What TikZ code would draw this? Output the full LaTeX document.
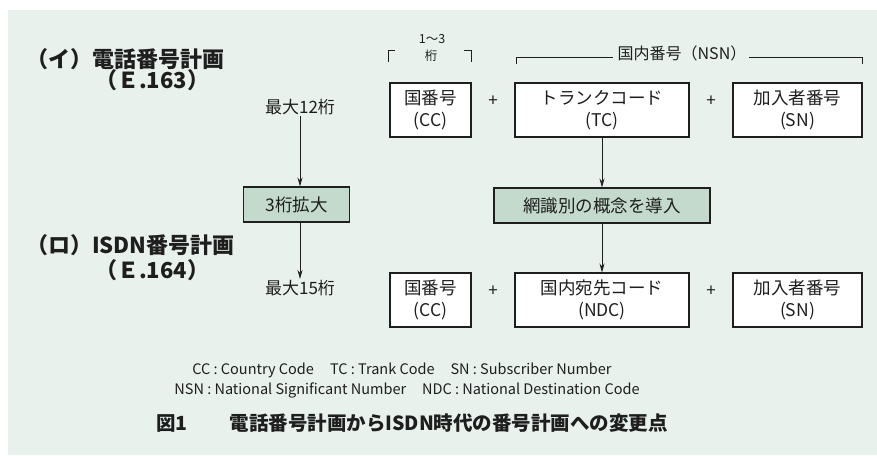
\documentclass[tikz,border=0pt]{standalone}
\usepackage{fontspec}
\setmainfont{Noto Sans CJK JP}
\usetikzlibrary{arrows.meta}
\definecolor{bg}{HTML}{E8F1EC}
\definecolor{boxg}{HTML}{C3DACD}
\definecolor{ink}{HTML}{1E1E1E}
\tikzset{
  numbox/.style={draw=ink, line width=1.1pt, fill=white, minimum height=54pt, align=center,
    font=\fontsize{17.5}{21.5}\selectfont, inner sep=0pt},
  stepbox/.style={draw=ink, line width=1.1pt, fill=boxg, minimum height=35pt,
    font=\fontsize{17.5}{20}\selectfont, inner sep=0pt},
  plus/.style={font=\fontsize{17}{20}\selectfont},
  small/.style={font=\fontsize{17}{20}\selectfont},
  title/.style={font=\fontsize{22}{26}\selectfont\bfseries, anchor=west},
  legend/.style={font=\fontsize{14.5}{17}\selectfont},
  arr/.style={draw=ink, line width=0.8pt, -{Stealth[length=9pt,width=5pt]}},
  brk/.style={draw=ink, line width=0.8pt}
}
\begin{document}
\begin{tikzpicture}[x=1pt,y=-1pt, every node/.style={text=ink, inner sep=1pt}]
\fill[white] (0,0) rectangle (877,455);
\fill[bg] (8,10) rectangle (877,455);
\useasboundingbox (0,0) rectangle (877,455);

% titles
\node[title] (t1) at (25,59) {（イ）電話番号計画};
\node[title] (t1b) at (94,80) {（Ｅ.163）};
\node[title] (t2) at (25,245) {（ロ）ISDN番号計画};
\node[title] (t2b) at (94,270) {（Ｅ.164）};

% left column
\node[small] (max12) at (300,107) {最大12桁};
\node[stepbox, minimum width=106pt] (exp) at (296.5,204.5) {3桁拡大};
\node[small] (max15) at (300,288) {最大15桁};
\draw[arr] (max12.south) -- (max12.south |- exp.north);
\draw[arr] (max12.south |- exp.south) -- (max15.north);

% top row
\node[numbox, minimum width=81pt] (cc1) at (430.5,110) {国番号\\(CC)};
\node[numbox, minimum width=174pt] (tc) at (602,110) {トランクコード\\(TC)};
\node[numbox, minimum width=129pt] (sn1) at (797.5,110) {加入者番号\\(SN)};
\node[plus] (p1) at (493,101) {+};
\node[plus] (p2) at (711,101) {+};

% brackets
\draw[brk] (388,62) -- (388,50) -- (395,50);
\draw[brk] (464,50) -- (471,50) -- (471,62);
\node[font=\fontsize{12.5}{14}\selectfont] (r13) at (432,39) {1〜3};
\node[font=\fontsize{12.5}{14}\selectfont] (rk) at (431,56) {桁};
\draw[brk] (516,64) -- (516,57) -- (613,57);
\draw[brk] (749,57) -- (862,57) -- (862,64);
\node[font=\fontsize{16}{18}\selectfont] (nsn) at (682,53) {国内番号（NSN）};

% middle
\node[stepbox, minimum width=216pt] (ndi) at (602,205.5) {網識別の概念を導入};
\draw[arr] (tc.south) -- (ndi.north);

% bottom row
\node[numbox, minimum width=81pt] (cc2) at (430.5,300) {国番号\\(CC)};
\node[numbox, minimum width=174pt] (ndc) at (602,300) {国内宛先コード\\(NDC)};
\node[numbox, minimum width=129pt] (sn2) at (797.5,300) {加入者番号\\(SN)};
\node[plus] (p3) at (493,291) {+};
\node[plus] (p4) at (711,291) {+};
\draw[arr] (ndi.south) -- (ndc.north);

% legend
\node[legend] (lg1) at (402,370) {CC : Country Code\hspace{16pt}TC : Trank Code\hspace{16pt}SN : Subscriber Number};
\node[legend] (lg2) at (407,390) {NSN : National Significant Number\hspace{16pt}NDC : National Destination Code};

% caption
\node[font=\fontsize{19.5}{22}\selectfont\bfseries, anchor=west] (cap) at (155,423) {図1\hspace{42pt}電話番号計画からISDN時代の番号計画への変更点};
\end{tikzpicture}
\end{document}
